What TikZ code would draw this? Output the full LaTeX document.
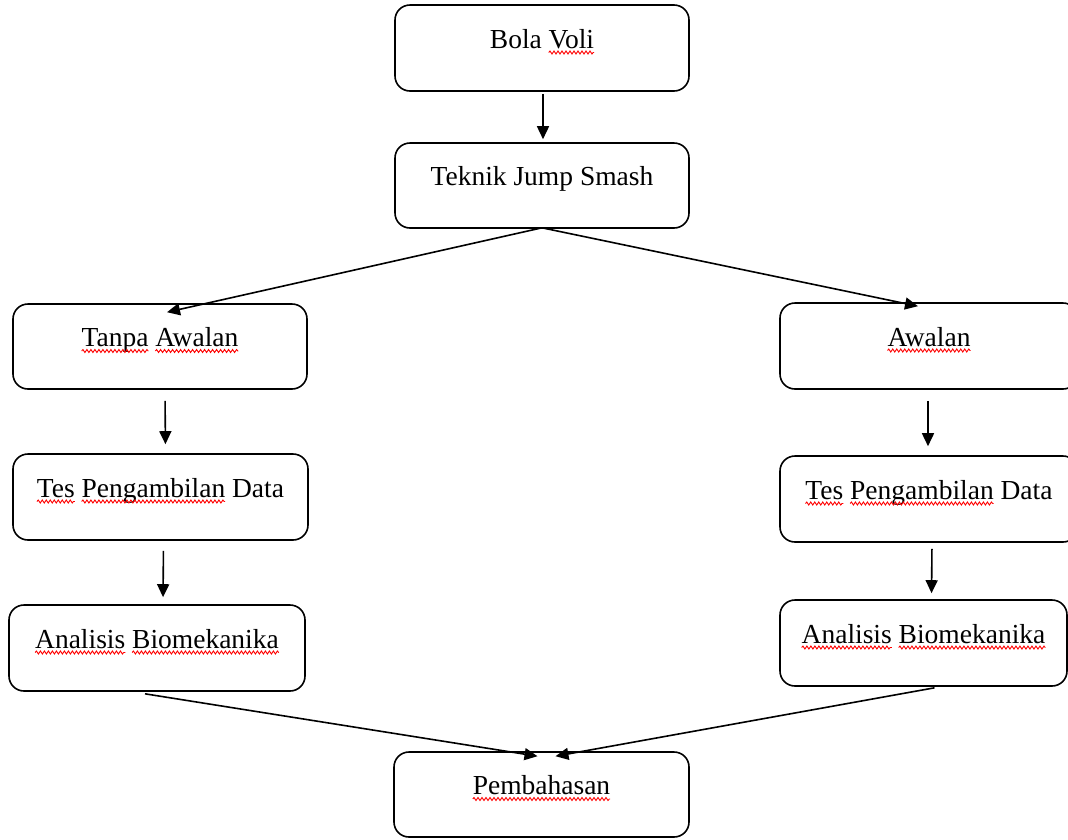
\documentclass[tikz,border=0pt]{standalone}
\usepackage{fontspec}
\setmainfont{Liberation Serif}
\usetikzlibrary{arrows.meta,calc,decorations.pathmorphing}
\newsavebox\wavebox
\newcommand\spellwave[1]{\sbox\wavebox{#1}\usebox\wavebox\tikz[overlay,x=1pt,y=1pt,baseline=0pt,sharp corners]\draw[red,line width=0.9pt,sharp corners,decorate,decoration={snake,amplitude=1.5pt,segment length=4pt}] (-\the\wd\wavebox,-4.5pt) -- (0pt,-4.5pt);}
\begin{document}
\begin{tikzpicture}[x=1pt,y=-1pt,
  box/.style={draw, line width=1.6pt, rounded corners=15pt, inner sep=0pt,
    text height=14pt, text depth=14pt, font=\fontsize{27.5}{30}\selectfont},
  arr/.style={line width=1.6pt, -{Triangle[length=13pt,width=12pt]}}]
\useasboundingbox (0,0) rectangle (1068,839);
\node[box, minimum width=294pt, minimum height=86pt] (bola) at (542,48) {Bola \spellwave{Voli}};
\node[box, minimum width=294pt, minimum height=85pt] (teknik) at (542,185.5) {Teknik Jump Smash};
\node[box, minimum width=294pt, minimum height=85pt] (tanpa) at (160,346.5) {\spellwave{Tanpa} \spellwave{Awalan}};
\node[box, minimum width=298pt, minimum height=86pt] (awalan) at (929,346) {\spellwave{Awalan}};
\node[box, minimum width=295pt, minimum height=86pt] (tesL) at (160.5,497) {\spellwave{Tes} \spellwave{Pengambilan} Data};
\node[box, minimum width=298pt, minimum height=86pt] (tesR) at (929,499) {\spellwave{Tes} \spellwave{Pengambilan} Data};
\node[box, minimum width=296pt, minimum height=86pt] (anaL) at (157,648) {\spellwave{Analisis} \spellwave{Biomekanika}};
\node[box, minimum width=287pt, minimum height=86pt] (anaR) at (923.5,643) {\spellwave{Analisis} \spellwave{Biomekanika}};
\node[box, minimum width=295pt, minimum height=85pt] (bahas) at (541.5,794.5) {\spellwave{Pembahasan}};
% connectors
\draw[arr, shorten <=2pt, shorten >=3pt] ([xshift=1pt]bola.south) -- ([xshift=1pt]teknik.north);
\draw[arr] ([yshift=1pt]teknik.south) -- ([xshift=7pt,yshift=-9pt]tanpa.north);
\draw[arr] ([yshift=1pt]teknik.south) -- ([xshift=-11pt,yshift=-4pt]awalan.north);
\draw[arr, shorten <=11pt, shorten >=9pt] ([xshift=5pt]tanpa.south) -- ([xshift=5pt]tesL.north);
\draw[arr, shorten <=11pt, shorten >=9pt] ([xshift=-1pt]awalan.south) -- ([xshift=-1pt]tesR.north);
\draw[arr, shorten <=10pt, shorten >=7pt] ([xshift=3pt]tesL.south) -- ([xshift=6pt]anaL.north);
\draw[arr, shorten <=6pt, shorten >=6pt] ([xshift=3pt]tesR.south) -- ([xshift=8pt]anaR.north);
\draw[arr] ([xshift=-12pt,yshift=-2pt]anaL.south) -- ([xshift=-4pt,yshift=-5pt]bahas.north);
\draw[arr] ([xshift=11pt,yshift=-1pt]anaR.south) -- ([xshift=14pt,yshift=-5pt]bahas.north);
\end{tikzpicture}
\end{document}
